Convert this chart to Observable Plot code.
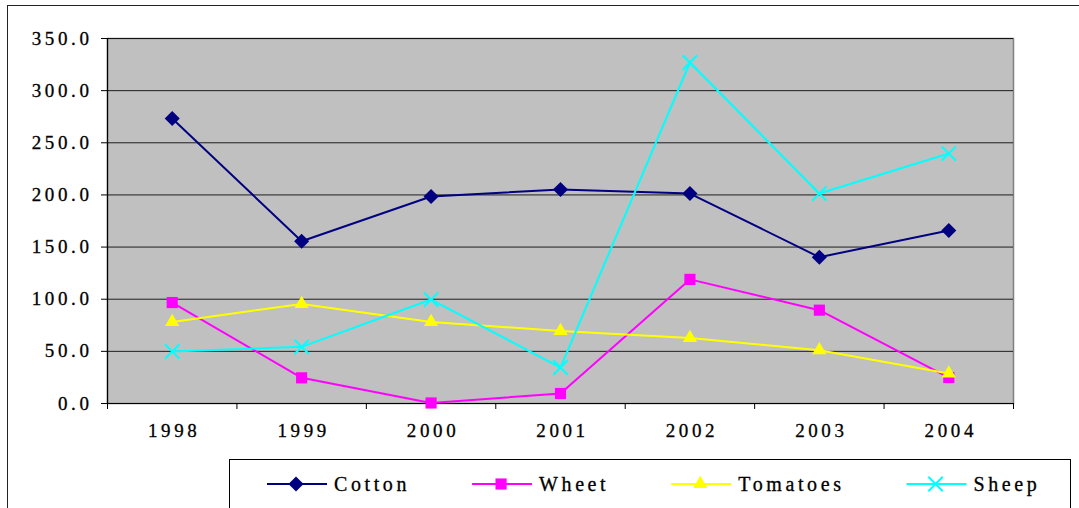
<!DOCTYPE html>
<html><head><meta charset="utf-8">
<script src="https://cdn.jsdelivr.net/npm/d3@7"></script>
<script src="https://cdn.jsdelivr.net/npm/@observablehq/plot@0.6"></script>
<style>
html,body{margin:0;padding:0;background:#fff;overflow:hidden;}
#wrap{position:relative;width:1079px;height:508px;overflow:hidden;}
#border{position:absolute;left:7px;top:5px;width:1090px;height:600px;border:1.5px solid #222;box-sizing:border-box;}
#chart{position:absolute;left:0;top:0;}
#legend{position:absolute;left:229px;top:459px;width:842px;height:80px;border:1px solid #000;background:#fff;box-sizing:border-box;}
svg text{font-family:"Liberation Serif","Times New Roman",Times,serif !important;stroke:#000;stroke-width:0.3px;}
</style></head><body>
<div id="wrap"><div id="border"></div><div id="chart"></div><div id="legend"></div></div>
<script>
const years = [1998, 1999, 2000, 2001, 2002, 2003, 2004];
const cotton = [273.3, 155.6, 198.5, 205.2, 201.3, 140.3, 165.9];
const wheet = [96.8, 24.6, 0.5, 9.6, 119.0, 89.5, 24.9];
const tomatoes = [78.2, 95.5, 78.2, 69.6, 62.9, 51.1, 28.8];
const sheep = [49.9, 54.3, 99.7, 34.5, 327.0, 201.3, 239.7];
const yTicks = [0, 50, 100, 150, 200, 250, 300, 350];
const seriesNames = ["Cotton", "Wheet", "Tomatoes", "Sheep"];
const seriesColors = ["#000080", "#ff00ff", "#ffff00", "#00ffff"];
const seriesSymbols = ["diamond2", "square", "triangle", "times"];
const seriesR = [6.8, 6.3, 5.3, 6.6];
const seriesValues = [cotton, wheet, tomatoes, sheep];

const FONT = '"Liberation Serif", "Times New Roman", Times, serif';

const rows = [];
seriesNames.forEach((name, i) => {
  years.forEach((yr, j) => rows.push({series: name, year: yr, value: seriesValues[i][j]}));
});
const boundaries = years.concat([years[years.length - 1] + 1]).map(y => y - 0.5);

const seriesMarks = [];
seriesNames.forEach((name, i) => {
  const data = rows.filter(d => d.series === name);
  seriesMarks.push(Plot.line(data, {x: "year", y: "value", stroke: seriesColors[i], strokeWidth: 2}));
  if (seriesSymbols[i] === "times") {
    seriesMarks.push(Plot.dot(data, {x: "year", y: "value", symbol: "times", r: seriesR[i], stroke: seriesColors[i], strokeWidth: 2}));
  } else {
    seriesMarks.push(Plot.dot(data, {x: "year", y: "value", symbol: seriesSymbols[i], r: seriesR[i], fill: seriesColors[i], stroke: "none"}));
  }
});

const chart = Plot.plot({
  width: 1079, height: 459,
  marginLeft: 107, marginRight: 66, marginTop: 38, marginBottom: 56,
  style: {fontFamily: FONT, fontSize: "19px", letterSpacing: "3.6px", color: "#000", background: "transparent", overflow: "visible"},
  x: {type: "linear", domain: [boundaries[0], boundaries[boundaries.length - 1]]},
  y: {domain: [0, 350]},
  marks: [
    Plot.frame({fill: "#c0c0c0", stroke: "#808080", strokeWidth: 1.5}),
    Plot.gridY(yTicks, {stroke: "#000", strokeOpacity: 0.85, strokeWidth: 1}),
    Plot.ruleX([boundaries[0]], {stroke: "#000", strokeWidth: 1.2}),
    Plot.ruleY([0], {stroke: "#000", strokeWidth: 1.2}),
    Plot.axisY(yTicks, {tickSize: 6, tickPadding: 9, tickFormat: d => d.toFixed(1), label: null, stroke: "#000", strokeOpacity: 1, fontFamily: FONT}),
    Plot.axisX(boundaries, {tickSize: 6, tickFormat: () => "", label: null, stroke: "#000", strokeOpacity: 1}),
    Plot.axisX(years, {tickSize: 0, tickPadding: 20, tickFormat: d => String(d), label: null, dx: 2, fontFamily: FONT}),
    ...seriesMarks
  ]
});
document.getElementById("chart").appendChild(chart);

// legend
const lsvg = d3.select("#legend").append("svg").attr("width", 840).attr("height", 78)
  .style("font-family", FONT).style("font-size", "20px").style("letter-spacing", "3.6px");
let cursor = 37;
const cy = 24;
seriesNames.forEach((name, i) => {
  const g = lsvg.append("g");
  g.append("line").attr("x1", cursor).attr("x2", cursor + 60).attr("y1", cy).attr("y2", cy)
    .attr("stroke", seriesColors[i]).attr("stroke-width", 2);
  const typeMap = {diamond2: d3.symbolDiamond2, square: d3.symbolSquare, triangle: d3.symbolTriangle, times: d3.symbolTimes};
  const size = Math.PI * seriesR[i] * seriesR[i];
  const p = g.append("path").attr("d", d3.symbol(typeMap[seriesSymbols[i]], size)())
    .attr("transform", `translate(${cursor + 29},${cy})`);
  if (seriesSymbols[i] === "times") p.attr("fill", "none").attr("stroke", seriesColors[i]).attr("stroke-width", 2);
  else p.attr("fill", seriesColors[i]);
  const t = g.append("text").attr("x", cursor + 67).attr("y", cy + 7).attr("fill", "#000").text(name);
  const w = t.node().getComputedTextLength();
  cursor = cursor + 67 + w + 62;
});
</script>
</body></html>
